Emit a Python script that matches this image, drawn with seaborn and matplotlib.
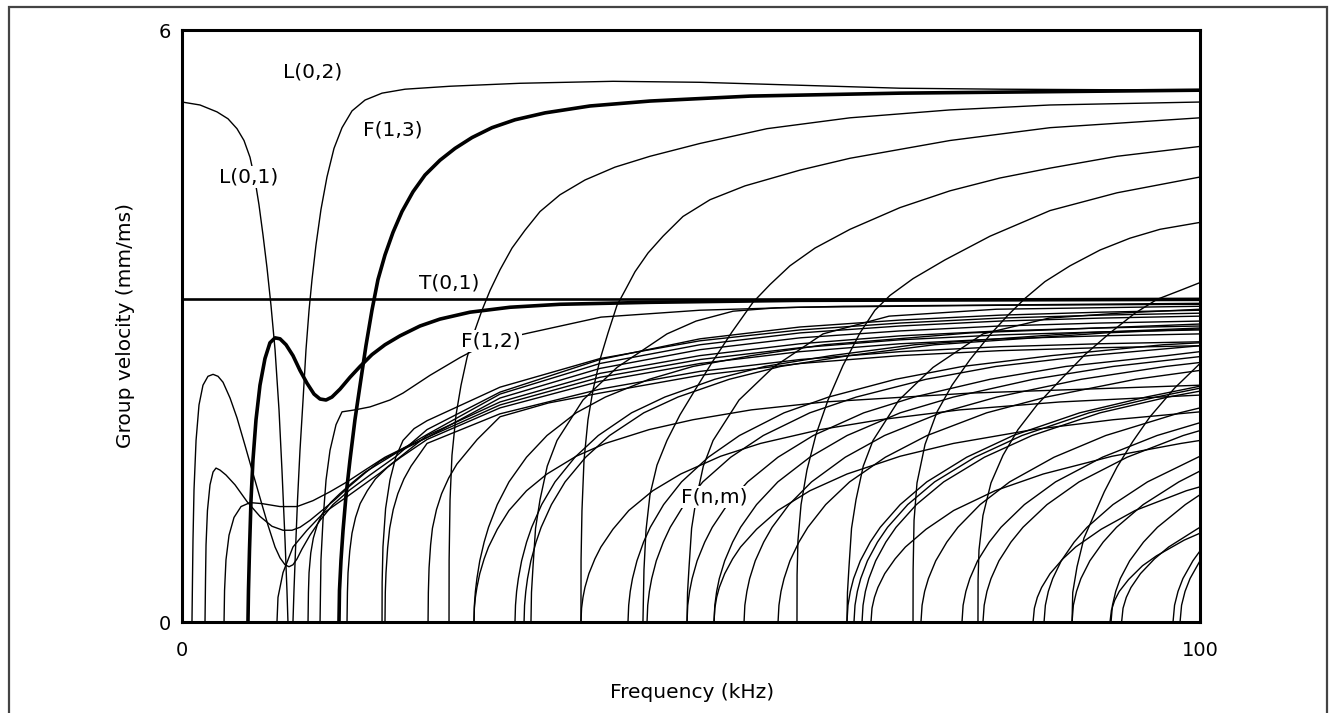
import numpy as np
import pandas as pd
import matplotlib
matplotlib.use("Agg")
import matplotlib.pyplot as plt
from matplotlib.patches import Rectangle
import seaborn as sns

# ---------------- data (frequency kHz, group velocity mm/ms) ----------------
t01_f = [0.0, 100.0]
t01_v = [3.27, 3.27]

l01_f = [0.0, 1.77, 3.44, 4.52, 5.40, 6.09, 6.68, 7.17, 7.56, 7.96, 8.35, 8.74, 9.14, 9.53, 9.82, 10.12, 10.31, 10.41]
l01_v = [5.27, 5.24, 5.17, 5.10, 5.00, 4.88, 4.71, 4.48, 4.23, 3.92, 3.59, 3.21, 2.76, 2.15, 1.54, 0.83, 0.32, 0.0]

l02_f = [10.90, 11.00, 11.15, 11.35, 11.59, 11.89, 12.18, 12.48, 12.77, 13.16, 13.65, 14.24, 14.93, 15.72,
         16.70, 17.98, 19.65, 21.91, 26.33, 33.20, 42.34, 50.88, 60.71, 70.53, 80.35, 100.0]
l02_v = [0.0, 0.32, 0.73, 1.24, 1.74, 2.25, 2.76, 3.16, 3.47, 3.82, 4.18, 4.51, 4.80, 5.01,
         5.18, 5.29, 5.36, 5.40, 5.43, 5.46, 5.48, 5.47, 5.44, 5.41, 5.40, 5.39]

f13_f = [15.42, 15.47, 15.62, 15.82, 16.11, 16.50, 16.99, 17.49, 18.07, 18.66, 19.25, 19.94, 20.73, 21.61,
         22.69, 23.87, 25.34, 26.82, 28.49, 30.45, 32.71, 35.66, 40.08, 45.97, 55.80, 70.53, 100.0]
f13_v = [0.0, 0.32, 0.63, 0.93, 1.28, 1.64, 2.05, 2.40, 2.80, 3.16, 3.47, 3.72, 3.95, 4.16,
         4.36, 4.53, 4.68, 4.80, 4.91, 5.01, 5.09, 5.16, 5.23, 5.28, 5.33, 5.36, 5.39]

f12_f = [6.48, 6.53, 6.63, 6.78, 6.97, 7.27, 7.66, 8.15, 8.64, 9.14, 9.63, 10.22, 10.90, 11.59, 12.28, 12.97,
         13.56, 14.15, 14.73, 15.52, 16.50, 17.49, 18.66, 19.94, 21.41, 23.38, 25.34, 28.29, 32.22, 37.13,
         45.97, 60.71, 100.0]
f12_v = [0.0, 0.32, 0.73, 1.24, 1.64, 2.05, 2.40, 2.67, 2.83, 2.88, 2.87, 2.81, 2.70, 2.55, 2.42, 2.31,
         2.26, 2.25, 2.28, 2.36, 2.48, 2.59, 2.71, 2.81, 2.90, 3.00, 3.07, 3.14, 3.19, 3.22,
         3.24, 3.26, 3.27]

# fast branches crossing T(0,1)
u1_f = [26.23, 26.24, 26.33, 26.52, 26.92, 27.41, 28.00, 28.68, 29.47, 30.26, 31.24, 32.42, 33.69, 35.17,
        37.13, 39.59, 42.53, 45.97, 50.88, 57.47, 65.62, 75.44, 85.27, 100.0]
u1_v = [0.0, 0.63, 1.24, 1.69, 2.10, 2.40, 2.68, 2.93, 3.16, 3.36, 3.57, 3.79, 3.97, 4.16,
        4.33, 4.48, 4.61, 4.72, 4.85, 5.00, 5.11, 5.19, 5.24, 5.27]
u2_f = [39.19, 39.20, 39.29, 39.49, 39.88, 40.37, 41.06, 41.85, 42.73, 43.52, 44.50, 45.78, 47.25, 49.21,
        51.87, 55.30, 60.71, 65.62, 75.44, 85.27, 100.0]
u2_v = [0.0, 0.63, 1.13, 1.64, 2.05, 2.35, 2.66, 2.93, 3.21, 3.36, 3.55, 3.74, 3.91, 4.11,
        4.28, 4.42, 4.58, 4.70, 4.88, 5.01, 5.11]
u3_f = [45.28, 45.38, 45.58, 45.97, 46.66, 47.64, 48.92, 50.39, 52.06, 54.03, 56.09, 57.76, 59.72, 62.18,
        65.62, 70.53, 75.44, 80.35, 85.27, 91.85, 100.0]
u3_v = [0.0, 0.53, 0.93, 1.29, 1.59, 1.84, 2.10, 2.35, 2.63, 2.94, 3.24, 3.42, 3.61, 3.79,
        3.98, 4.20, 4.37, 4.50, 4.60, 4.72, 4.82]
u4_f = [60.41, 60.42, 60.51, 60.81, 61.39, 62.28, 63.46, 64.93, 66.60, 68.07, 69.55, 71.81, 74.95, 79.37,
        85.27, 91.85, 100.0]
u4_v = [0.0, 0.48, 0.83, 1.19, 1.54, 1.90, 2.25, 2.60, 2.93, 3.16, 3.31, 3.48, 3.67, 3.91,
        4.17, 4.35, 4.51]
u5_f = [71.81, 71.82, 71.91, 72.20, 72.99, 74.17, 75.64, 77.41, 79.37, 81.14, 82.81, 84.77, 87.23, 90.18,
        93.12, 96.07, 100.0]
u5_v = [0.0, 0.53, 1.03, 1.41, 1.80, 2.13, 2.40, 2.66, 2.91, 3.11, 3.28, 3.45, 3.61, 3.77,
        3.89, 3.98, 4.05]
u6_f = [78.19, 78.20, 78.29, 78.68, 79.47, 80.65, 82.12, 83.99, 86.25, 88.70, 91.16, 93.61, 95.78, 98.04, 100.0]
u6_v = [0.0, 0.43, 0.73, 1.08, 1.41, 1.69, 1.95, 2.20, 2.45, 2.71, 2.93, 3.13, 3.27, 3.36, 3.44]

# low-frequency flexural branches and the converging bundle
h1_f = [0.98, 1.03, 1.08, 1.18, 1.38, 1.67, 2.06, 2.55, 3.05, 3.54, 4.03, 4.72, 5.40, 6.19, 6.88, 7.66,
        8.45, 9.14, 9.63, 10.12, 10.51, 10.90, 11.30, 11.79, 12.57, 13.56, 14.83, 16.50, 18.47, 20.92,
        24.07, 31.24, 41.06, 50.88, 60.71, 70.53, 80.35, 90.18, 100.0]
h1_v = [0.0, 0.43, 0.83, 1.34, 1.84, 2.20, 2.40, 2.49, 2.51, 2.49, 2.43, 2.27, 2.07, 1.79, 1.54, 1.26,
        0.98, 0.76, 0.65, 0.58, 0.56, 0.58, 0.64, 0.74, 0.88, 1.03, 1.19, 1.34, 1.49, 1.67,
        1.95, 2.33, 2.66, 2.87, 2.99, 3.06, 3.11, 3.14, 3.16]
h2_f = [2.26, 2.31, 2.36, 2.50, 2.75, 3.05, 3.34, 3.73, 4.32, 5.21, 6.39, 7.66, 8.84, 9.92, 10.81, 11.59,
        12.57, 13.75, 15.03, 16.50, 17.98, 19.45, 21.41, 24.07, 31.24, 41.06, 50.88, 60.71, 70.53, 80.35,
        90.18, 100.0]
h2_v = [0.0, 0.43, 0.78, 1.13, 1.39, 1.52, 1.56, 1.54, 1.49, 1.39, 1.22, 1.07, 0.97, 0.93, 0.93, 0.96,
        1.03, 1.13, 1.24, 1.38, 1.51, 1.63, 1.74, 1.90, 2.31, 2.62, 2.81, 2.93, 3.00, 3.05,
        3.08, 3.10]
h3_f = [4.13, 4.18, 4.32, 4.62, 5.11, 5.80, 6.68, 7.86, 9.62, 11.30, 12.87, 14.54, 16.21, 17.98, 19.94,
        21.91, 24.07, 31.24, 41.06, 50.88, 60.71, 70.53, 80.35, 90.18, 100.0]
h3_v = [0.0, 0.32, 0.63, 0.88, 1.06, 1.17, 1.21, 1.20, 1.17, 1.17, 1.23, 1.32, 1.42, 1.54, 1.67,
        1.77, 1.87, 2.27, 2.57, 2.76, 2.88, 2.95, 3.00, 3.03, 3.05]
c277_f = [9.33, 9.43, 9.92, 10.90, 12.28, 13.85, 16.21, 19.45, 24.07, 31.24, 41.06, 50.88, 60.71, 70.53, 80.35, 90.18, 100.0]
c277_v = [0.0, 0.25, 0.50, 0.76, 0.93, 1.10, 1.27, 1.51, 1.89, 2.23, 2.52, 2.70, 2.82, 2.90, 2.95, 2.98, 3.00]
c308_f = [12.38, 12.42, 12.48, 12.65, 12.90, 13.30, 13.80, 14.60, 15.50, 16.70, 18.00, 21.00, 24.07, 31.24,
          41.06, 50.88, 60.71, 70.53, 80.35, 90.18, 100.0]
c308_v = [0.0, 0.30, 0.50, 0.70, 0.85, 0.99, 1.10, 1.21, 1.30, 1.41, 1.52, 1.71, 1.87, 2.20,
          2.48, 2.66, 2.78, 2.86, 2.91, 2.94, 2.96]
c320_f = [13.56, 13.65, 13.85, 14.15, 14.54, 15.13, 15.72, 16.99, 18.47, 20.43, 21.71, 24.36, 27.31, 30.26,
          34.09, 41.16, 50.88, 60.71, 80.35, 100.0]
c320_v = [0.0, 0.63, 1.03, 1.44, 1.74, 2.00, 2.13, 2.15, 2.18, 2.25, 2.32, 2.50, 2.68, 2.84,
          2.93, 3.09, 3.16, 3.19, 3.21, 3.22]
c347_f = [16.21, 16.25, 16.31, 16.48, 16.70, 17.05, 17.50, 18.20, 19.00, 20.20, 21.50, 24.07, 31.24, 41.06,
          50.88, 60.71, 70.53, 80.35, 90.18, 100.0]
c347_v = [0.0, 0.30, 0.50, 0.72, 0.90, 1.06, 1.20, 1.33, 1.45, 1.57, 1.67, 1.85, 2.17, 2.44,
          2.62, 2.74, 2.82, 2.87, 2.90, 2.92]
c382_f = [19.65, 19.66, 19.74, 20.00, 20.43, 21.00, 21.71, 22.80, 24.07, 31.24, 41.06, 50.88, 60.71, 70.53, 80.35, 90.18, 100.0]
c382_v = [0.0, 0.40, 0.76, 1.15, 1.44, 1.67, 1.84, 1.96, 2.04, 2.38, 2.67, 2.85, 2.96, 3.03, 3.08, 3.11, 3.13]
c385_f = [19.94, 19.97, 20.04, 20.20, 20.40, 20.75, 21.20, 21.80, 22.50, 24.07, 31.24, 41.06, 50.88, 60.71,
          70.53, 80.35, 90.18, 100.0]
c385_v = [0.0, 0.30, 0.50, 0.75, 0.95, 1.14, 1.30, 1.45, 1.58, 1.81, 2.11, 2.36, 2.54, 2.66,
          2.74, 2.79, 2.82, 2.84]
c428_f = [24.17, 24.20, 24.27, 24.42, 24.60, 25.00, 25.50, 26.20, 27.00, 29.00, 31.24, 36.00, 41.06, 50.88,
          60.71, 70.53, 80.35, 90.18, 100.0]
c428_v = [0.0, 0.30, 0.55, 0.78, 0.95, 1.14, 1.30, 1.46, 1.60, 1.85, 2.08, 2.22, 2.32, 2.50,
          2.62, 2.70, 2.75, 2.78, 2.80]

# steep branches levelling off just under T(0,1)
s531_f = [34.28, 34.33, 34.48, 34.73, 35.17, 35.88, 36.84, 39.39, 42.73, 47.64, 50.50, 54.13, 58.50, 65.0, 100.0]
s531_v = [0.0, 0.30, 0.56, 0.95, 1.24, 1.58, 1.84, 2.25, 2.58, 2.92, 3.05, 3.15, 3.185, 3.20, 3.23]
s687_f = [49.61, 49.66, 49.81, 50.06, 50.50, 51.21, 52.17, 54.72, 58.06, 62.97, 69.46, 80.0, 100.0]
s687_v = [0.0, 0.30, 0.56, 0.95, 1.24, 1.58, 1.84, 2.25, 2.58, 2.92, 3.10, 3.17, 3.20]
s847_f = [65.32, 65.37, 65.52, 65.77, 66.21, 66.92, 67.88, 70.43, 73.77, 78.68, 85.17, 92.0, 100.0]
s847_v = [0.0, 0.30, 0.56, 0.95, 1.24, 1.58, 1.84, 2.25, 2.58, 2.92, 3.08, 3.13, 3.17]
s1072_f = [87.43, 87.50, 87.92, 88.60, 89.49, 90.60, 91.85, 93.40, 95.09, 97.50, 100.0]
s1072_v = [0.0, 0.30, 0.56, 0.85, 1.06, 1.32, 1.57, 1.83, 2.08, 2.37, 2.62]

# bending F(n,m) branches (upper set)
bend_v = [0.0, 0.17, 0.31, 0.44, 0.62, 0.81, 0.96, 1.19, 1.42, 1.67, 1.89, 2.12, 2.28, 2.46, 2.59, 2.70, 2.81, 2.93]
b474_f = [28.68, 28.72, 28.82, 28.97, 29.25, 29.68, 30.11, 30.97, 32.12, 33.84, 35.85, 38.72, 41.59, 45.89, 50.19, 55.93, 63.10, 77.44, 100.0]
b474_v = bend_v + [3.02]
b515_f = [32.71, 32.76, 32.87, 33.04, 33.36, 33.85, 34.35, 35.33, 36.64, 38.60, 40.89, 44.16, 47.43, 52.34, 57.24, 63.78, 71.96, 88.32, 100.0]
b515_v = bend_v + [2.98]
b524_f = [33.60, 33.65, 33.77, 33.94, 34.27, 34.78, 35.28, 36.29, 37.63, 39.65, 42.00, 45.36, 48.72, 53.76, 58.80, 65.52, 73.92, 90.72, 100.0]
b524_v = bend_v + [2.97]
b628_f = [43.81, 43.88, 44.03, 44.25, 44.69, 45.34, 46.00, 47.31, 49.07, 51.70, 54.76, 59.14, 63.52, 70.10, 76.67, 85.43, 96.38, 100.0]
b628_v = bend_v[:17] + [2.83]
b647_f = [45.68, 45.75, 45.91, 46.14, 46.59, 47.28, 47.96, 49.33, 51.16, 53.90, 57.10, 61.67, 66.24, 73.09, 79.94, 89.08, 100.0]
b647_v = bend_v[:16] + [2.80]
b687_f = [49.61, 49.68, 49.86, 50.11, 50.60, 51.35, 52.09, 53.58, 55.56, 58.54, 62.01, 66.97, 71.93, 79.38, 86.82, 96.74, 100.0]
b687_v = bend_v[:16] + [2.74]
b714_f = [52.26, 52.34, 52.52, 52.78, 53.31, 54.09, 54.87, 56.44, 58.53, 61.67, 65.33, 70.55, 75.78, 83.62, 91.46, 100.0]
b714_v = bend_v[:15] + [2.69]
b744_f = [55.21, 55.29, 55.49, 55.76, 56.31, 57.14, 57.97, 59.63, 61.84, 65.15, 69.01, 74.53, 80.05, 88.34, 96.62, 100.0]
b744_v = bend_v[:15] + [2.63]
b778_f = [58.55, 58.64, 58.84, 59.14, 59.72, 60.60, 61.48, 63.23, 65.58, 69.09, 73.19, 79.04, 84.90, 93.68, 100.0]
b778_v = bend_v[:14] + [2.55]
b847_f = [65.32, 65.42, 65.65, 65.97, 66.63, 67.61, 68.59, 70.55, 73.16, 77.08, 81.65, 88.18, 94.71, 100.0]
b847_v = bend_v[:13] + [2.39]
b854_f = [66.01, 66.11, 66.34, 66.67, 67.33, 68.32, 69.31, 71.29, 73.93, 77.89, 82.51, 89.11, 95.71, 100.0]
b854_v = bend_v[:13] + [2.37]
b862_f = [66.80, 66.90, 67.13, 67.47, 68.14, 69.14, 70.14, 72.14, 74.82, 78.82, 83.50, 90.18, 96.86, 100.0]
b862_v = bend_v[:13] + [2.34]
b921_f = [72.59, 72.70, 72.95, 73.32, 74.04, 75.13, 76.22, 78.40, 81.30, 85.66, 90.74, 98.00, 100.0]
b921_v = bend_v[:12] + [2.17]
b962_f = [76.62, 76.73, 77.00, 77.39, 78.15, 79.30, 80.45, 82.75, 85.81, 90.41, 95.78, 100.0]
b962_v = bend_v[:11] + [2.02]
b983_f = [78.68, 78.80, 79.07, 79.47, 80.25, 81.43, 82.61, 84.97, 88.12, 92.84, 98.35, 100.0]
b983_v = bend_v[:11] + [1.94]
b1044_f = [84.68, 84.81, 85.10, 85.53, 86.37, 87.64, 88.91, 91.45, 94.84, 100.0]
b1044_v = bend_v[:9] + [1.68]
b1072_f = [87.43, 87.56, 87.87, 88.30, 89.18, 90.49, 91.80, 94.42, 97.92, 100.0]
b1072_v = bend_v[:9] + [1.53]
b1111_f = [91.26, 91.40, 91.72, 92.17, 93.09, 94.45, 95.82, 98.56, 100.0]
b1111_v = bend_v[:8] + [1.29]
b1110_f = [91.16, 91.30, 91.62, 92.07, 92.98, 94.35, 95.72, 98.45, 100.0]
b1110_v = [0.0, 0.12, 0.22, 0.31, 0.43, 0.57, 0.67, 0.83, 0.90]
b1173_f = [97.35, 97.50, 97.84, 98.32, 99.30, 100.0]
b1173_v = [0.0, 0.17, 0.31, 0.44, 0.62, 0.72]
b1180_f = [98.04, 98.19, 98.53, 99.02, 100.0]
b1180_v = [0.0, 0.17, 0.31, 0.44, 0.62]

# slower bending F(n,m) branches (lower set)
slow_v = [0.0, 0.14, 0.25, 0.35, 0.49, 0.64, 0.76, 0.94, 1.13, 1.33, 1.50, 1.68, 1.81, 1.95, 2.05, 2.15, 2.23, 2.32]
sl474_f = [28.68, 28.72, 28.82, 28.97, 29.25, 29.68, 30.11, 30.97, 32.12, 33.84, 35.85, 38.72, 41.59, 45.89, 50.19, 55.93, 63.10, 77.44, 100.0]
sl474_v = slow_v + [2.40]
sl581_f = [39.19, 39.25, 39.39, 39.58, 39.97, 40.56, 41.15, 42.33, 43.89, 46.24, 48.99, 52.91, 56.83, 62.70, 68.58, 76.42, 86.22, 100.0]
sl581_v = slow_v[:17] + [2.30]
sl714_f = [52.26, 52.34, 52.52, 52.78, 53.31, 54.09, 54.87, 56.44, 58.53, 61.67, 65.33, 70.55, 75.78, 83.62, 91.46, 100.0]
sl714_v = slow_v[:15] + [2.13]
sl871_f = [67.68, 67.78, 68.02, 68.36, 69.03, 70.05, 71.06, 73.09, 75.80, 79.86, 84.60, 91.37, 98.14, 100.0]
sl871_v = slow_v[:13] + [1.84]
sl1033_f = [83.60, 83.73, 84.02, 84.44, 85.27, 86.53, 87.78, 90.29, 93.63, 98.65, 100.0]
sl1033_v = slow_v[:10] + [1.37]
sl1122_f = [92.30, 92.44, 92.76, 93.22, 94.15, 95.53, 96.92, 99.68, 100.0]
sl1122_v = slow_v[:8] + [0.96]

x_ticks = [0, 100]
y_ticks = [0, 6]
x_title = "Frequency (kHz)"
y_title = "Group velocity (mm/ms)"
mode_labels = ["L(0,2)", "F(1,3)", "L(0,1)", "T(0,1)", "F(1,2)", "F(n,m)"]
label_f = [12.8, 20.7, 6.5, 26.2, 30.3, 52.3]
label_v = [5.57, 4.99, 4.51, 3.44, 2.85, 1.27]

thin = {
    "L(0,1)": (l01_f, l01_v), "L(0,2)": (l02_f, l02_v),
    "u1": (u1_f, u1_v), "u2": (u2_f, u2_v), "u3": (u3_f, u3_v), "u4": (u4_f, u4_v),
    "u5": (u5_f, u5_v), "u6": (u6_f, u6_v),
    "h1": (h1_f, h1_v), "h2": (h2_f, h2_v), "h3": (h3_f, h3_v),
    "c277": (c277_f, c277_v), "c308": (c308_f, c308_v), "c320": (c320_f, c320_v),
    "c347": (c347_f, c347_v), "c382": (c382_f, c382_v), "c385": (c385_f, c385_v),
    "c428": (c428_f, c428_v),
    "s531": (s531_f, s531_v), "s687": (s687_f, s687_v), "s847": (s847_f, s847_v),
    "s1072": (s1072_f, s1072_v),
    "b474": (b474_f, b474_v), "b515": (b515_f, b515_v), "b524": (b524_f, b524_v),
    "b628": (b628_f, b628_v), "b647": (b647_f, b647_v), "b687": (b687_f, b687_v),
    "b714": (b714_f, b714_v), "b744": (b744_f, b744_v), "b778": (b778_f, b778_v),
    "b847": (b847_f, b847_v), "b854": (b854_f, b854_v), "b862": (b862_f, b862_v),
    "b921": (b921_f, b921_v), "b962": (b962_f, b962_v), "b983": (b983_f, b983_v),
    "b1044": (b1044_f, b1044_v), "b1072": (b1072_f, b1072_v), "b1111": (b1111_f, b1111_v),
    "b1110": (b1110_f, b1110_v), "b1173": (b1173_f, b1173_v), "b1180": (b1180_f, b1180_v),
    "sl474": (sl474_f, sl474_v), "sl581": (sl581_f, sl581_v), "sl714": (sl714_f, sl714_v),
    "sl871": (sl871_f, sl871_v), "sl1033": (sl1033_f, sl1033_v), "sl1122": (sl1122_f, sl1122_v),
}
thick = {"F(1,2)": (f12_f, f12_v), "F(1,3)": (f13_f, f13_v)}
medium = {"T(0,1)": (t01_f, t01_v)}


def to_frame(curves):
    rows = []
    for name, (fs, vs) in curves.items():
        assert len(fs) == len(vs), name
        for i, (f, v) in enumerate(zip(fs, vs)):
            rows.append({"mode": name, "order": i, "f": f, "v": v})
    return pd.DataFrame(rows)


# ---------------- figure ----------------
sns.set_theme(style="white")
plt.rcParams["font.family"] = ["DejaVu Sans"]

W, H = 1329, 713
fig = plt.figure(figsize=(W / 100, H / 100), dpi=100)
ax = fig.add_axes([182 / W, 1 - 622 / H, (1200 - 182) / W, (622 - 30) / H])

for curves, lw in ((thin, 1.0), (medium, 1.9), (thick, 2.6)):
    df = to_frame(curves)
    sns.lineplot(data=df, x="f", y="v", units="mode", estimator=None, sort=False,
                 color="black", linewidth=lw, ax=ax, legend=False,
                 solid_joinstyle="round", solid_capstyle="butt")

ax.set_xlim(0, 100)
ax.set_ylim(0, 6)
ax.set_xticks(x_ticks)
ax.set_yticks(y_ticks)
ax.set_xticklabels([str(t) for t in x_ticks])
ax.set_yticklabels([str(t) for t in y_ticks])
ax.tick_params(axis="both", length=0, labelsize=14, colors="black")
ax.tick_params(axis="x", pad=14)
ax.tick_params(axis="y", pad=8)
for s in ax.spines.values():
    s.set_linewidth(2.2)
    s.set_color("black")
    s.set_visible(True)

ax.set_xlabel(x_title, fontsize=14.5, color="black")
ax.set_ylabel(y_title, fontsize=14.5, color="black")
ax.xaxis.set_label_coords(0.501, -0.103)
ax.yaxis.set_label_coords(-0.046, 0.5)

for txt, fx, vy in zip(mode_labels, label_f, label_v):
    ax.text(fx, vy, txt, fontsize=14.5, ha="center", va="center", color="black", zorder=5,
            bbox=dict(boxstyle="square,pad=0.08", fc="white", ec="none"))

# outer frame of the drawing
fig.add_artist(Rectangle((9 / W, -0.05), (1327 - 9) / W, 1.05 - 7 / H,
                         transform=fig.transFigure, fill=False, ec="#444444", lw=1.6, clip_on=False))

fig.savefig("out.png", dpi=100, facecolor="white")
